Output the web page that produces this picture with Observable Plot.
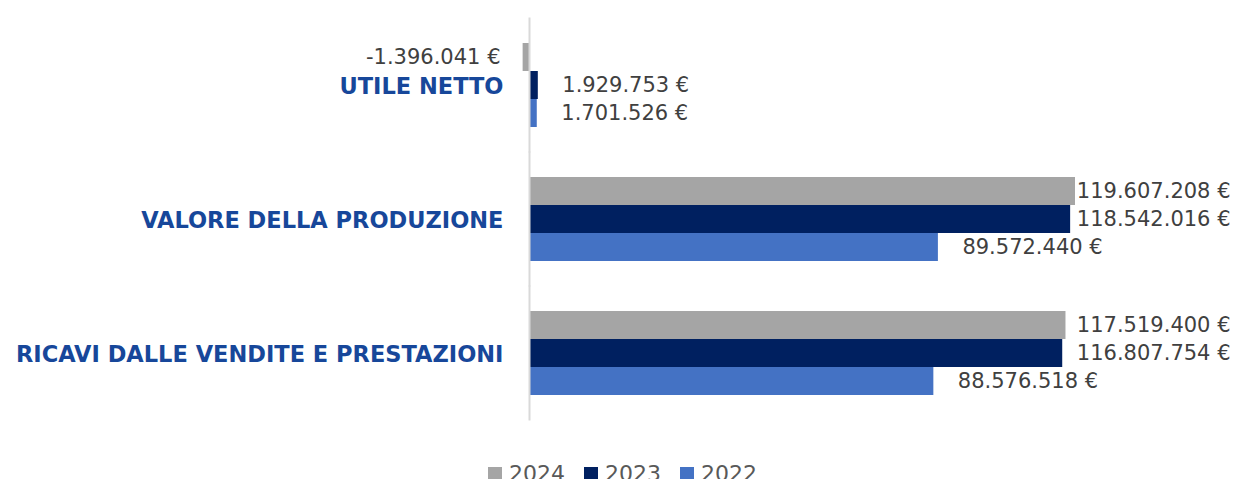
<!DOCTYPE html>
<html><head><meta charset="utf-8">
<script src="https://cdn.jsdelivr.net/npm/d3@7"></script>
<script src="https://cdn.jsdelivr.net/npm/@observablehq/plot@0.6"></script>
<style>
html,body{margin:0;padding:0;background:#fff;overflow:hidden;width:1233px;height:479px}
#chart svg{display:block}
#legend{display:flex;justify-content:center;align-items:center;gap:19px;padding-left:12px;margin-top:11px;font-family:"DejaVu Sans",sans-serif;font-size:22px;line-height:26px;color:#595959}
#legend .item{display:flex;align-items:center;gap:7px}
#legend .sw{width:14px;height:14px;display:inline-block}
</style></head><body>
<div id="chart"></div>
<div id="legend"></div>
<script>
const categories = ["UTILE NETTO", "VALORE DELLA PRODUZIONE", "RICAVI DALLE VENDITE E PRESTAZIONI"];
const years = ["2024", "2023", "2022"];
const values2024 = [-1396041, 119607208, 117519400];
const values2023 = [1929753, 118542016, 116807754];
const values2022 = [1701526, 89572440, 88576518];
const colors = ["#a5a5a5", "#002060", "#4472c4"];

const series = {"2024": values2024, "2023": values2023, "2022": values2022};
const rows = [];
categories.forEach((c, i) => years.forEach(y => rows.push({category: c, year: y, value: series[y][i]})));

const loc = d3.formatLocale({decimal: ",", thousands: ".", grouping: [3], currency: ["", "€"], minus: "-"});
const fmt = loc.format(",d");
const label = d => fmt(d.value) + " €";
const bigThreshold = 100000000;

const font = "'DejaVu Sans', sans-serif";
const plot = Plot.plot({
  width: 1233, height: 450,
  marginTop: 17, marginBottom: 30, marginLeft: 0, marginRight: 0,
  style: {fontFamily: font, background: "#fff"},
  x: {domain: [0, 119607208], range: [529, 1075], axis: null},
  y: {domain: years, axis: null, paddingInner: 0, paddingOuter: 0},
  fy: {domain: categories, axis: null, paddingInner: 0.375, paddingOuter: 0.1875},
  color: {domain: years, range: colors},
  marks: [
    Plot.barX(rows, {fy: "category", y: "year", x: "value", fill: "year", insetTop: 0, insetBottom: 0}),
    Plot.ruleX([0], {stroke: "#d9d9d9", strokeWidth: 2, insetTop: -25.5, insetBottom: -25.5}),
    Plot.text(categories, {fy: d => d, x: () => 0, text: d => d, textAnchor: "end", dx: -26, dy: 1,
      fill: "#17479a", fontWeight: "bold", fontSize: 22.5}),
    Plot.text(rows.filter(d => d.value >= 0 && d.value < bigThreshold), {fy: "category", y: "year", x: "value", text: label,
      textAnchor: "start", dx: 24, fill: "#404040", fontSize: 21}),
    Plot.text(rows.filter(d => d.value >= bigThreshold), {fy: "category", y: "year", frameAnchor: "right", text: label,
      textAnchor: "end", dx: -3, fill: "#404040", fontSize: 21}),
    Plot.text(rows.filter(d => d.value < 0), {fy: "category", y: "year", x: () => 0, text: label,
      textAnchor: "end", dx: -29, fill: "#404040", fontSize: 21})
  ]
});
document.getElementById("chart").appendChild(plot);

const lg = document.getElementById("legend");
years.forEach((y, i) => {
  const it = document.createElement("div"); it.className = "item";
  const sw = document.createElement("span"); sw.className = "sw"; sw.style.background = colors[i];
  const t = document.createElement("span"); t.textContent = y;
  it.appendChild(sw); it.appendChild(t); lg.appendChild(it);
});
</script>
</body></html>
